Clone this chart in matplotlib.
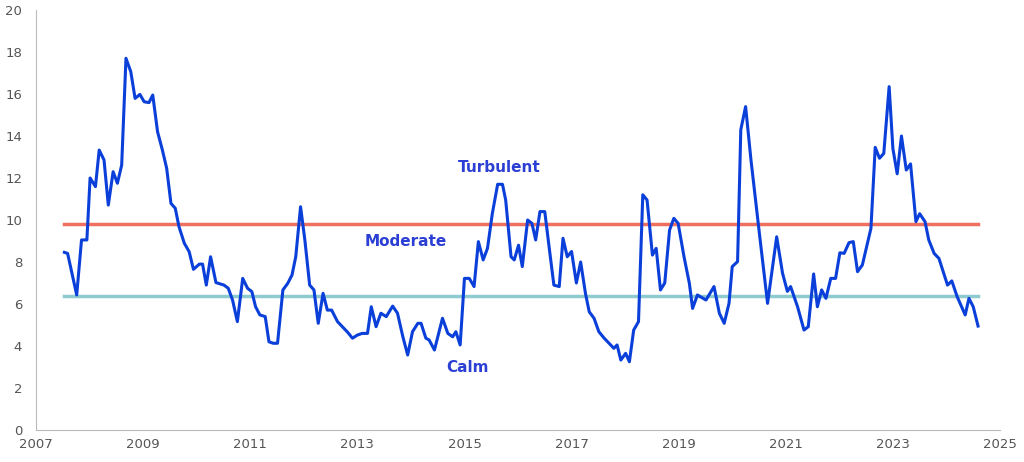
import matplotlib
matplotlib.use("Agg")
import matplotlib.pyplot as plt

# series (decimal year, index value)
years = [
    2007.53, 2007.59, 2007.76, 2007.85, 2007.95, 2008.01, 2008.11, 2008.18, 2008.27, 2008.35,
    2008.44, 2008.52, 2008.60, 2008.68, 2008.77, 2008.85, 2008.94, 2009.02, 2009.11, 2009.18,
    2009.27, 2009.36, 2009.44, 2009.52, 2009.60, 2009.67, 2009.77, 2009.86, 2009.94, 2010.05,
    2010.11, 2010.18, 2010.26, 2010.36, 2010.51, 2010.59, 2010.67, 2010.76, 2010.86, 2010.95,
    2011.03, 2011.10, 2011.18, 2011.28, 2011.35, 2011.43, 2011.51, 2011.61, 2011.70, 2011.78,
    2011.85, 2011.94, 2012.02, 2012.11, 2012.19, 2012.27, 2012.36, 2012.44, 2012.52, 2012.63,
    2012.72, 2012.81, 2012.91, 2013.00, 2013.09, 2013.19,
    2013.26, 2013.35, 2013.44, 2013.54, 2013.66, 2013.75, 2013.85, 2013.94, 2014.03, 2014.13,
    2014.19, 2014.28, 2014.34, 2014.44, 2014.59, 2014.69, 2014.78, 2014.84, 2014.92, 2015.00,
    2015.09, 2015.18, 2015.26, 2015.35, 2015.43, 2015.52, 2015.62, 2015.71, 2015.77, 2015.87,
    2015.93, 2016.01, 2016.08, 2016.18, 2016.26, 2016.33, 2016.41, 2016.50, 2016.58, 2016.67,
    2016.77, 2016.84, 2016.92, 2017.00, 2017.09, 2017.17, 2017.26, 2017.33, 2017.42, 2017.51,
    2017.61, 2017.70, 2017.79, 2017.85, 2017.92, 2018.01, 2018.08, 2018.16, 2018.25, 2018.33,
    2018.41, 2018.51, 2018.58, 2018.66, 2018.74, 2018.83, 2018.91, 2018.99,
    2019.10, 2019.20, 2019.26, 2019.35, 2019.51, 2019.66, 2019.76, 2019.85, 2019.94, 2020.00,
    2020.10, 2020.16, 2020.25, 2020.35, 2020.50, 2020.66, 2020.83, 2020.94, 2021.03, 2021.09,
    2021.22, 2021.34, 2021.42, 2021.52, 2021.59, 2021.67, 2021.75, 2021.84, 2021.93, 2022.01,
    2022.09, 2022.18, 2022.26, 2022.34, 2022.43, 2022.59, 2022.67, 2022.75, 2022.83, 2022.93,
    2023.00, 2023.08, 2023.16, 2023.25, 2023.33, 2023.43, 2023.50, 2023.60, 2023.67, 2023.77,
    2023.86, 2024.02, 2024.10, 2024.20, 2024.35, 2024.42, 2024.50, 2024.59,
]
values = [
    8.46, 8.41, 6.43, 9.05, 9.05, 12.0, 11.59, 13.33, 12.86, 10.71,
    12.3, 11.75, 12.62, 17.7, 17.06, 15.79, 15.98, 15.63, 15.59, 15.95,
    14.2, 13.33, 12.46, 10.79, 10.56, 9.68, 8.89, 8.49, 7.65, 7.9,
    7.9, 6.9, 8.25, 7.02, 6.9, 6.75, 6.19, 5.16, 7.22, 6.75,
    6.59, 5.87, 5.48, 5.4, 4.2, 4.13, 4.13, 6.67, 6.98, 7.38,
    8.25, 10.63, 9.05, 6.9, 6.67, 5.08, 6.51, 5.71, 5.71, 5.16,
    4.92, 4.68, 4.37, 4.52, 4.6, 4.6,
    5.87, 4.92, 5.56, 5.4, 5.9, 5.56, 4.44, 3.57, 4.68, 5.08,
    5.08, 4.37, 4.29, 3.81, 5.32, 4.6, 4.44, 4.68, 4.05, 7.22,
    7.22, 6.83, 8.97, 8.1, 8.65, 10.3, 11.7, 11.7, 10.95, 8.25,
    8.1, 8.8, 7.78, 10.0, 9.84, 9.05, 10.4, 10.4, 8.73, 6.9,
    6.83, 9.13, 8.25, 8.5, 7.0, 8.0, 6.5, 5.63, 5.32, 4.68,
    4.37, 4.13, 3.89, 4.05, 3.33, 3.65, 3.25, 4.76, 5.16, 11.2,
    10.95, 8.33, 8.65, 6.67, 7.0, 9.52, 10.08, 9.84,
    8.25, 6.98, 5.79, 6.43, 6.19, 6.83, 5.56, 5.08, 6.03, 7.78,
    8.02, 14.3, 15.4, 12.86, 9.52, 6.03, 9.2, 7.46, 6.6, 6.83,
    5.87, 4.76, 4.92, 7.43, 5.87, 6.67, 6.27, 7.22, 7.22, 8.44,
    8.41, 8.92, 8.97, 7.54, 7.86, 9.6, 13.46, 12.94, 13.17, 16.35,
    13.4, 12.2, 14.0, 12.38, 12.67, 9.92, 10.3, 9.92, 9.05, 8.41,
    8.17, 6.9, 7.1, 6.35, 5.48, 6.27, 5.87, 4.95,
]

moderate_level = 9.8
calm_level = 6.4
x_ticks = list(range(2007, 2026, 2))
y_ticks = list(range(0, 21, 2))

fig = plt.figure(figsize=(10.24, 4.62), dpi=100)
ax = fig.add_axes([36 / 1024, 32 / 462, (1000 - 36) / 1024, 420 / 462])

ax.plot([years[0], years[-1]], [moderate_level] * 2, color="#f0705f", lw=2.5, zorder=2)
ax.plot([years[0], years[-1]], [calm_level] * 2, color="#8dcbd0", lw=2.5, zorder=2)
ax.plot(years, values, color="#0a3fd9", lw=2.2, zorder=3)

label_style = dict(color="#2b3fd4", fontsize=11, fontweight="bold", ha="center", va="center")
ax.text(2015.65, 12.5, "Turbulent", **label_style)
ax.text(2013.9, 9.0, "Moderate", **label_style)
ax.text(2015.05, 3.0, "Calm", **label_style)

ax.set_xlim(2007, 2025)
ax.set_ylim(0, 20)
ax.set_xticks(x_ticks)
ax.set_yticks(y_ticks)
ax.tick_params(colors="#555555", labelsize=9.5, length=0)
ax.tick_params(axis="y", pad=10)
ax.tick_params(axis="x", pad=6)
for side in ["top", "right"]:
    ax.spines[side].set_visible(False)
for side in ["left", "bottom"]:
    ax.spines[side].set_color("#bbbbbb")

fig.savefig("out.png", dpi=100)
